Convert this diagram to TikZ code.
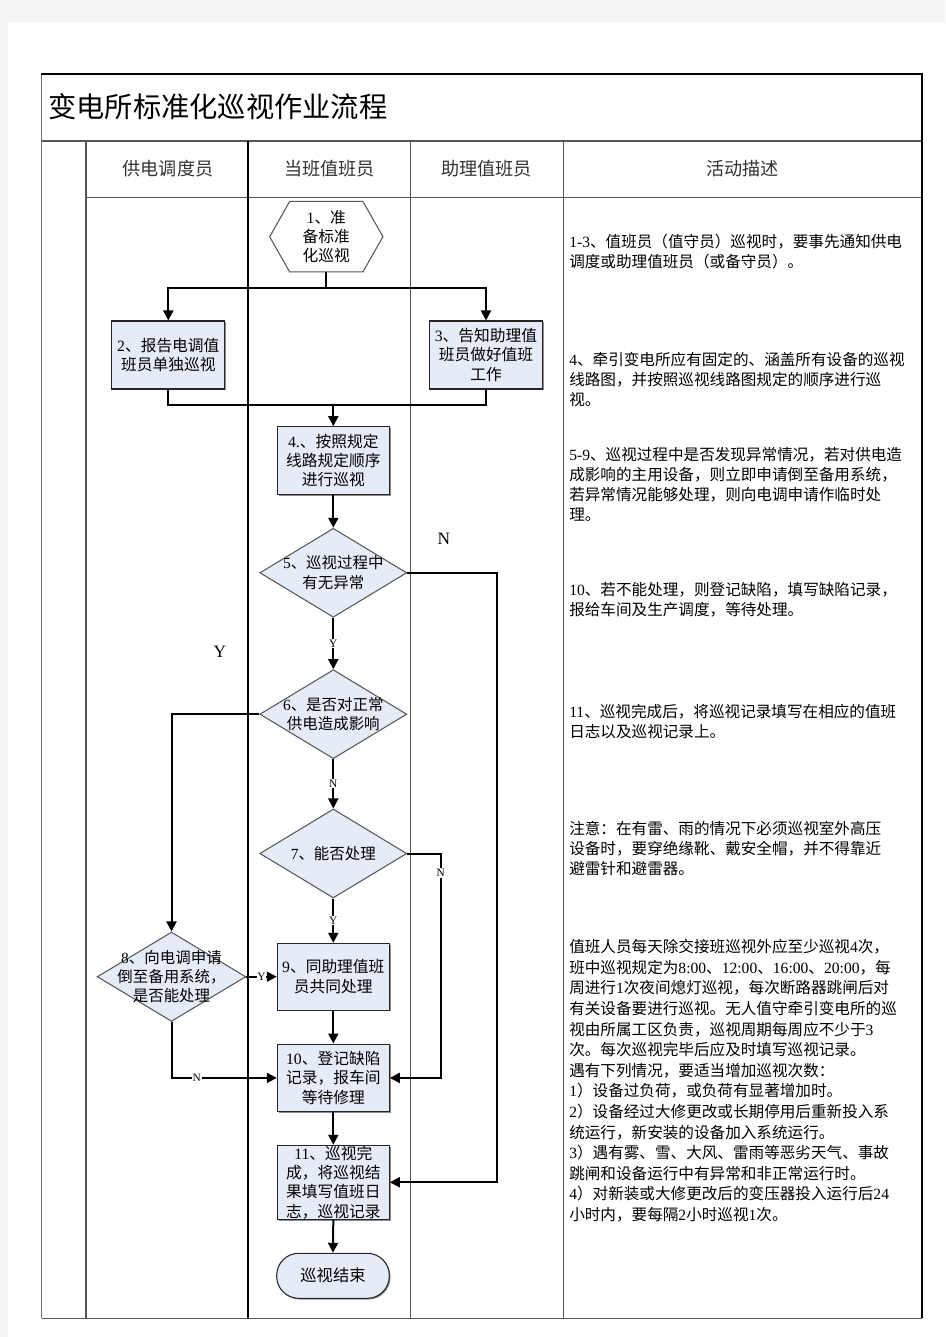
\documentclass[tikz,border=0pt]{standalone}
\usepackage{fontspec}
\setmainfont{Noto Sans CJK SC}
\newfontfamily\latf{Liberation Serif}
\usetikzlibrary{shapes.geometric,arrows.meta,shadows,calc}
\newdimen\pxu \pxu=0.75pt
\newcommand\en[1]{{\latf #1}}
\definecolor{boxfill}{RGB}{230,236,247}
\definecolor{pagegray}{RGB}{244,244,244}
\definecolor{rulegray}{RGB}{85,85,85}
\begin{document}
\begin{tikzpicture}[x=0.75pt,y=-0.75pt,
  box/.style={draw=black!85, line width=0.8pt, fill=boxfill, minimum width=112\pxu, inner sep=0pt, align=center, font=\fontsize{11.8}{14.5}\selectfont, drop shadow={shadow xshift=0.9pt, shadow yshift=-0.9pt, fill=black!45, opacity=1}},
  diam/.style={diamond, draw=black!65, line width=0.8pt, fill=boxfill, minimum width=147\pxu, minimum height=89\pxu, inner sep=0pt},
  dtext/.style={align=center, inner sep=0pt, font=\fontsize{11.6}{14.5}\selectfont},
  hexline/.style={draw=black!65, line width=0.8pt},
  cline/.style={line width=1.5pt},
  conn/.style={line width=1.5pt, -{Triangle[length=7.5pt,width=7.5pt]}},
  yn/.style={font=\latf\fontsize{8.5}{9}\selectfont, fill=white, inner sep=0.6pt},
  bigl/.style={font=\latf\fontsize{13}{14}\selectfont, inner sep=0pt},
  desc/.style={anchor=west, align=left, inner sep=0pt, font=\fontsize{11.7}{15}\selectfont},
  hdr/.style={inner sep=0pt, text=black!80, font=\fontsize{13.6}{15}\selectfont},
  tline/.style={draw=rulegray, line width=0.8pt}
]
\useasboundingbox (0,0) rectangle (945,1337);
\fill[pagegray] (0,0) rectangle (945,1337);
\fill[white] (8,22) rectangle (945,1337);

% table
\draw[tline, draw=black!55] (41.5,74) -- (41.5,1318.3);
\draw[tline] (41.5,1318.3) -- (922,1318.3);
\draw[tline] (41.5,141) -- (922,141);
\draw[tline] (86,197.3) -- (922,197.3);
\draw[tline] (86,141) -- (86,1318.3);
\draw[line width=1.5pt] (248.3,141) -- (248.3,1318.3);
\draw[tline] (410.7,141) -- (410.7,1318.3);
\draw[tline] (563.3,141) -- (563.3,1318.3);
\draw[line width=1.6pt] (922,74) -- (922,1318.3);
\draw[line width=1.9pt] (41,74) -- (922.8,74);

% title and headers
\node[anchor=west, inner sep=0pt, font=\fontsize{21.2}{24}\selectfont] (title) at (48,107) {变电所标准化巡视作业流程};
\node[hdr] (h1) at (168,169) {供电调度员};
\node[hdr] (h2) at (329.5,169) {当班值班员};
\node[hdr] (h3) at (486.5,169) {助理值班员};
\node[hdr] (h4) at (742.5,169) {活动描述};

% flow nodes
\node[inner sep=0pt, minimum width=112.7\pxu, minimum height=70\pxu, align=center, font=\fontsize{11.8}{14.5}\selectfont] (n1) at (326.3,236.7) {\en{1}、准\\备标准\\化巡视};
\draw[hexline] (n1.west) -- ($(n1.north west)+(20,0)$) -- ($(n1.north east)+(-20,0)$) -- (n1.east) -- ($(n1.south east)+(-20,0)$) -- ($(n1.south west)+(20,0)$) -- cycle;

\node[box, minimum width=113.3\pxu, minimum height=68\pxu] (n2) at (168.3,355) {\en{2}、报告电调值\\班员单独巡视};
\node[box, minimum width=113.3\pxu, minimum height=68\pxu] (n3) at (486,355) {\en{3}、告知助理值\\班员做好值班\\工作};
\node[box, minimum height=67.6\pxu] (n4) at (333.3,460.5) {\en{4.}、按照规定\\线路规定顺序\\进行巡视};

\node[diam] (d5) at (333.3,572.8) {};
\node[dtext] (d5t) at (333.3,572.8) {\en{5}、巡视过程中\\有无异常};
\node[diam] (d6) at (333.3,714.2) {};
\node[dtext] (d6t) at (333.3,714.2) {\en{6}、是否对正常\\供电造成影响};
\node[diam] (d7) at (333.3,853.5) {};
\node[dtext] (d7t) at (333.3,853.5) {\en{7}、能否处理};
\node[diam, minimum width=148.7\pxu, minimum height=89.4\pxu] (d8) at (171.5,976.7) {};
\node[dtext] (d8t) at (171.5,976.7) {\en{8}、向电调申请\\倒至备用系统，\\是否能处理};

\node[box, minimum height=66.7\pxu] (n9) at (333.3,976.7) {\en{9}、同助理值班\\员共同处理};
\node[box, minimum height=67.7\pxu] (n10) at (333.3,1077.9) {\en{10}、登记缺陷\\记录，报车间\\等待修理};
\node[box, minimum height=74\pxu] (n11) at (333.3,1182.3) {\en{11}、巡视完\\成，将巡视结\\果填写值班日\\志，巡视记录};
\node[box, rounded corners=22\pxu, minimum width=112.6\pxu, minimum height=45\pxu, font=\fontsize{12.2}{14.5}\selectfont] (end) at (333,1275.8) {巡视结束};

% connectors
\coordinate (j1) at (326.3,288.3);
\coordinate (j2) at (333.3,405);
\draw[cline] (n1.south) -- (j1);
\draw[conn] (j1) -| (n2.north);
\draw[conn] (j1) -| (n3.north);
\draw[cline] (n2.south) |- (j2);
\draw[cline] (n3.south) |- (j2);
\draw[conn] (j2) -- (n4.north);
\draw[conn] (n4.south) -- (d5.north);
\draw[conn] (d5.south) -- node[yn] (y56) {Y} (d6.north);
\draw[conn] (d6.south) -- node[yn] (n67) {N} (d7.north);
\draw[conn] (d7.south) -- node[yn] (y79) {Y} (n9.north);
\coordinate (c5) at (497.3,572.8);
\draw[conn] (d5.east) -- (c5) |- (n11.east);
\draw[conn] (d6.west) -| (d8.north);
\coordinate (c7) at (440.7,853.5);
\draw[conn] (d7.east) -- (c7) |- (n10.east);
\node[yn] (n710) at (440.7,873) {N};
\draw[conn] (d8.east) -- node[yn] (y89) {Y} (n9.west);
\draw[conn] (d8.south) |- node[yn, pos=0.62] (n810) {N} (n10.west);
\draw[conn] (n9.south) -- (n10.north);
\draw[conn] (n10.south) -- (n11.north);
\draw[conn] (n11.south) -- (end.north);

\node[bigl] (bigN) at (444,539.3) {N};
\node[bigl] (bigY) at (220,651.7) {Y};

% descriptions
\node[desc] (p1) at (569,251.7) {\en{1-3}、值班员（值守员）巡视时，要事先通知供电\\调度或助理值班员（或备守员）。};
\node[desc] (p2) at (569,379.1) {\en{4}、牵引变电所应有固定的、涵盖所有设备的巡视\\线路图，并按照巡视线路图规定的顺序进行巡\\视。};
\node[desc] (p3) at (569,484.5) {\en{5-9}、巡视过程中是否发现异常情况，若对供电造\\成影响的主用设备，则立即申请倒至备用系统，\\若异常情况能够处理，则向电调申请作临时处\\理。};
\node[desc] (p4) at (569,599.5) {\en{10}、若不能处理，则登记缺陷，填写缺陷记录，\\报给车间及生产调度，等待处理。};
\node[desc] (p5) at (569,721.3) {\en{11}、巡视完成后，将巡视记录填写在相应的值班\\日志以及巡视记录上。};
\node[desc] (p6) at (569,848.3) {注意：在有雷、雨的情况下必须巡视室外高压\\设备时，要穿绝缘靴、戴安全帽，并不得靠近\\避雷针和避雷器。};
\node[desc, font=\fontsize{11.7}{15.45}\selectfont] (p7) at (569,1080.8) {值班人员每天除交接班巡视外应至少巡视\en{4}次，\\班中巡视规定为\en{8:00}、\en{12:00}、\en{16:00}、\en{20:00}，每\\周进行\en{1}次夜间熄灯巡视，每次断路器跳闸后对\\有关设备要进行巡视。无人值守牵引变电所的巡\\视由所属工区负责，巡视周期每周应不少于\en{3}\\次。每次巡视完毕后应及时填写巡视记录。\\遇有下列情况，要适当增加巡视次数：\\\en{1}）设备过负荷，或负荷有显著增加时。\\\en{2}）设备经过大修更改或长期停用后重新投入系\\统运行，新安装的设备加入系统运行。\\\en{3}）遇有雾、雪、大风、雷雨等恶劣天气、事故\\跳闸和设备运行中有异常和非正常运行时。\\\en{4}）对新装或大修更改后的变压器投入运行后\en{24}\\小时内，要每隔\en{2}小时巡视\en{1}次。};
\end{tikzpicture}
\end{document}
